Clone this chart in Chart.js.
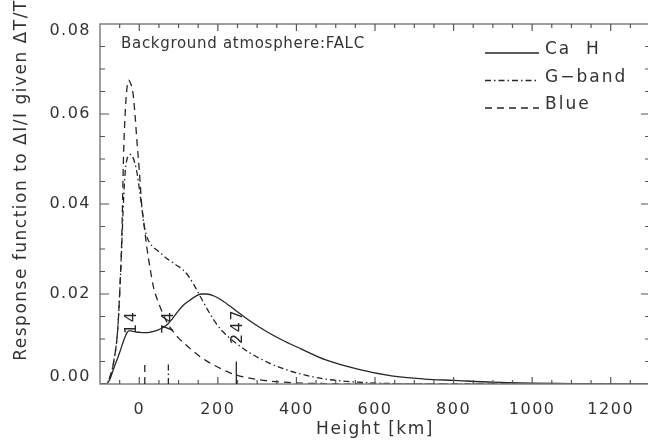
<!DOCTYPE html>
<html>
<head>
<meta charset="utf-8">
<script src="https://cdn.jsdelivr.net/npm/chart.js@4.4.1/dist/chart.umd.min.js"></script>
<style>
  html, body { margin: 0; padding: 0; background: #fff; overflow: hidden; }
  canvas { display: block; }
</style>
</head>
<body>
<!-- wider than the window: the right frame of the original sits just past the edge -->
<canvas id="responseChart" width="666" height="444"></canvas>
<script>
const heights = [-100, -85, -75, -65, -55, -50, -45, -40, -36, -32,
  -27, -22, -16, -11, -6, 0, 6, 12, 19, 27,
  36, 50, 70, 85, 100, 112, 125, 140, 150, 158,
  170, 192, 210, 243, 280, 327, 370, 412, 473, 556,
  642, 726, 800, 900, 1000, 1100, 1200, 1300];

const caH = [0, 0, 0.001, 0.0035, 0.0058, 0.007, 0.0083, 0.0096, 0.0105, 0.0113,
  0.0118, 0.0118, 0.0117, 0.0116, 0.0115, 0.0115, 0.0114, 0.0114, 0.0114, 0.0115,
  0.0117, 0.0121, 0.0131, 0.0146, 0.0163, 0.0175, 0.0184, 0.0193, 0.0198, 0.0200,
  0.0200, 0.0195, 0.0186, 0.0165, 0.0141, 0.0115, 0.0095, 0.0078, 0.0054, 0.0033,
  0.0018, 0.0011, 0.0008, 0.0004, 0.0002, 0.0001, 0, 0];

const gBand = [0, 0, 0.0015, 0.005, 0.012, 0.020, 0.030, 0.041, 0.047, 0.0497,
  0.0508, 0.0510, 0.0503, 0.0490, 0.0470, 0.0435, 0.0395, 0.0355, 0.0328, 0.0313,
  0.0304, 0.0294, 0.0279, 0.0270, 0.0261, 0.0253, 0.0240, 0.0219, 0.0203, 0.0190,
  0.0171, 0.0139, 0.0119, 0.0093, 0.0070, 0.0048, 0.0033, 0.0022, 0.0011, 0.0004,
  0.0001, 0, 0, 0, 0, 0, 0, 0];

const blue = [0, 0, 0.0015, 0.005, 0.012, 0.020, 0.031, 0.051, 0.060, 0.0652,
  0.0675, 0.0668, 0.0646, 0.0600, 0.0540, 0.0475, 0.0400, 0.0355, 0.0305, 0.0260,
  0.0216, 0.0178, 0.0138, 0.0118, 0.0102, 0.0092, 0.0082, 0.0071, 0.0064, 0.0059,
  0.0052, 0.0041, 0.0033, 0.0021, 0.0013, 0.0007, 0.0004, 0.0002, 0.0001, 0,
  0, 0, 0, 0, 0, 0, 0, 0];

const seriesNames = ["Ca  H", "G\u2212band", "Blue"];

// mean formation heights marked at the bottom of the plot
const markerHeights = [14, 74, 247];
const markerLabels = ["14", "74", "247"];
const markerSeries = [2, 1, 0]; // which curve's line style each marker uses
const markerLabelX = [-19, 75, 250];
const markerLabelY = [0.0137, 0.0137, 0.0128];

const noteText = "Background atmosphere:FALC";
const yTitle = "Response function to \u0394I/I given \u0394T/T";

const ink = "#262626";
const axisColor = "#808080";
const textColor = "#333333";
const fontFamily = "'DejaVu Sans', sans-serif";

function toPoints(values) {
  return heights.map((h, i) => ({ x: h, y: values[i] }));
}

// frame, inward ticks, legend, notes and markers
const framePlugin = {
  id: "framePlugin",
  beforeDraw(chart) {
    chart.ctx.letterSpacing = "1.5px";
  },
  afterDraw(chart) {
    const { ctx, chartArea: a, scales: { x, y } } = chart;
    ctx.save();

    // frame round the plot
    ctx.strokeStyle = axisColor;
    ctx.lineWidth = 1.5;
    ctx.setLineDash([]);
    ctx.strokeRect(a.left, a.top, a.right - a.left, a.bottom - a.top);

    // inward tick marks on all four sides
    ctx.lineWidth = 1.2;
    ctx.strokeStyle = "#555";
    ctx.beginPath();
    x.ticks.forEach((t) => {
      const px = x.getPixelForValue(t.value);
      if (px <= a.left + 1 || px >= a.right - 1) return;
      const len = Math.round(t.value) % 200 === 0 ? 7 : 4;
      ctx.moveTo(px, a.bottom);
      ctx.lineTo(px, a.bottom - len);
      ctx.moveTo(px, a.top);
      ctx.lineTo(px, a.top + len);
    });
    y.ticks.forEach((t) => {
      const py = y.getPixelForValue(t.value);
      if (py <= a.top + 1 || py >= a.bottom - 1) return;
      const len = Math.round(t.value * 1000) % 20 === 0 ? 9 : 5;
      ctx.moveTo(a.left, py);
      ctx.lineTo(a.left + len, py);
      ctx.moveTo(a.right, py);
      ctx.lineTo(a.right - len, py);
    });
    ctx.stroke();

    // y axis title
    ctx.fillStyle = textColor;
    ctx.font = "17px " + fontFamily;
    ctx.textAlign = "center";
    ctx.textBaseline = "middle";
    ctx.save();
    ctx.translate(22, 180);
    ctx.rotate(-Math.PI / 2);
    ctx.fillText(yTitle, 0, 0);
    ctx.restore();

    // background note
    ctx.font = "15px " + fontFamily;
    ctx.letterSpacing = "0.7px";
    ctx.textAlign = "left";
    ctx.textBaseline = "alphabetic";
    ctx.fillText(noteText, a.left + 21, 48);

    // legend
    ctx.font = "17px " + fontFamily;
    ctx.letterSpacing = "2px";
    chart.data.datasets.forEach((ds, i) => {
      const ly = 53 + i * 27.5;
      ctx.strokeStyle = ds.borderColor;
      ctx.lineWidth = 1.3;
      ctx.setLineDash(ds.borderDash || []);
      ctx.beginPath();
      ctx.moveTo(485, ly);
      ctx.lineTo(539, ly);
      ctx.stroke();
      ctx.fillText(ds.label, 545, ly + 1);
    });

    // formation height markers and their labels
    ctx.letterSpacing = "1.5px";
    ctx.font = "16px " + fontFamily;
    markerHeights.forEach((h, i) => {
      const ds = chart.data.datasets[markerSeries[i]];
      const px = x.getPixelForValue(h);
      ctx.strokeStyle = ink;
      ctx.lineWidth = 1.3;
      ctx.setLineDash(ds.borderDash || []);
      ctx.beginPath();
      ctx.moveTo(px, y.getPixelForValue(0));
      ctx.lineTo(px, y.getPixelForValue(0.005));
      ctx.stroke();

      ctx.save();
      ctx.translate(x.getPixelForValue(markerLabelX[i]), y.getPixelForValue(markerLabelY[i]));
      ctx.rotate(-Math.PI / 2);
      ctx.textAlign = "center";
      ctx.textBaseline = "middle";
      ctx.fillStyle = ink;
      ctx.fillText(markerLabels[i], 0, 0);
      ctx.restore();
    });

    ctx.restore();
  },
};

const ctx = document.getElementById("responseChart").getContext("2d");

new Chart(ctx, {
  type: "line",
  data: {
    datasets: [
      { label: seriesNames[0], data: toPoints(caH), borderColor: ink, borderDash: [] },
      { label: seriesNames[1], data: toPoints(gBand), borderColor: ink, borderDash: [6, 3, 1.5, 3] },
      { label: seriesNames[2], data: toPoints(blue), borderColor: ink, borderDash: [7, 5] },
    ],
  },
  options: {
    responsive: false,
    animation: false,
    // x tick padding (16) already keeps 16px free on the right
    layout: { padding: { top: 24, right: 0, left: 0, bottom: 0 } },
    elements: {
      point: { radius: 0 },
      line: { borderWidth: 1.3, cubicInterpolationMode: "monotone", fill: false },
    },
    plugins: {
      legend: { display: false },
      tooltip: { enabled: false },
    },
    scales: {
      x: {
        type: "linear",
        min: -100,
        max: 1300,
        grid: { display: false, drawTicks: false },
        border: { display: false },
        ticks: {
          stepSize: 50,
          autoSkip: false,
          maxRotation: 0,
          padding: 16,
          color: textColor,
          font: { family: fontFamily, size: 16 },
          callback: (v) => (v >= 0 && Math.round(v) % 200 === 0 ? String(Math.round(v)) : ""),
        },
        title: {
          display: true,
          text: "Height [km]",
          color: textColor,
          font: { family: fontFamily, size: 17 },
          padding: { top: 0, bottom: 4 },
        },
        afterFit: (scale) => { scale.height = 60; },
      },
      y: {
        min: 0,
        max: 0.08,
        grid: { display: false, drawTicks: false },
        border: { display: false },
        ticks: {
          stepSize: 0.005,
          autoSkip: false,
          padding: 9,
          color: textColor,
          font: { family: fontFamily, size: 16, lineHeight: 0.875 },
          callback: (v) => {
            const k = Math.round(v * 1000);
            if (k % 20 !== 0) return "";
            const label = (k / 1000).toFixed(2);
            // end labels sit inside the frame
            if (k === 0) return [label, ""];
            if (k === 80) return ["", label];
            return label;
          },
        },
        afterFit: (scale) => { scale.width = 100; },
      },
    },
  },
  plugins: [framePlugin],
});
</script>
</body>
</html>
